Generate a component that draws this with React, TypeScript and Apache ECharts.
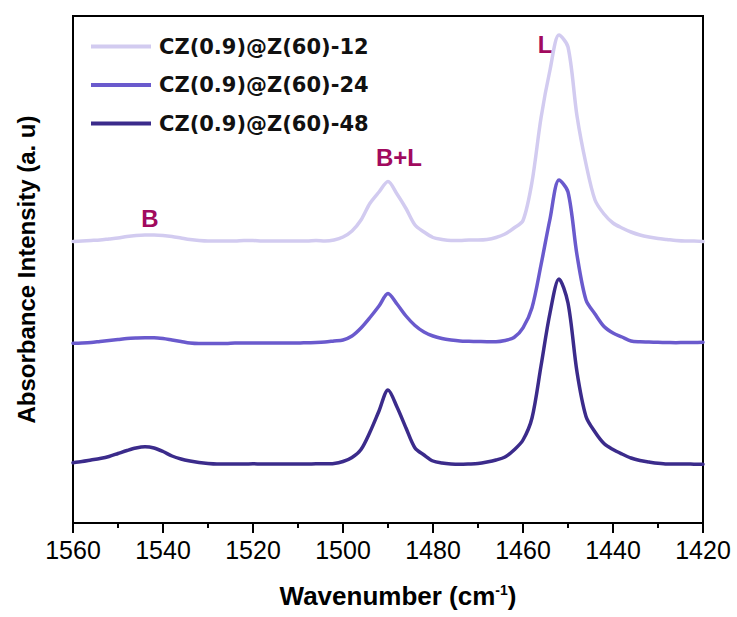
import React, { useEffect, useRef } from "react";
import * as echarts from "echarts";

// sampling grid: 1560 → 1420 cm-1, every 2 cm-1 (71 points)
const wavenumbers = Array.from({ length: 71 }, (_, i) => 1560 - 2 * i);

const seriesNames = ["CZ(0.9)@Z(60)-12", "CZ(0.9)@Z(60)-24", "CZ(0.9)@Z(60)-48"];
const seriesColors = ["#d2cbf0", "#6a5acd", "#3b2b8b"];

const spectrum12 = [
  2.815, 2.82, 2.825, 2.83, 2.84, 2.85, 2.865, 2.875, 2.88, 2.88,
  2.875, 2.865, 2.85, 2.835, 2.825, 2.82, 2.82, 2.82, 2.82, 2.825,
  2.825, 2.82, 2.82, 2.82, 2.82, 2.82, 2.82, 2.825, 2.82, 2.83,
  2.86, 2.92, 3.03, 3.197, 3.31, 3.415, 3.29, 3.145, 2.98, 2.91,
  2.855, 2.835, 2.825, 2.825, 2.83, 2.83, 2.835, 2.855, 2.89, 2.95,
  3.025, 3.41, 4.05, 4.53, 4.88, 4.76, 4.07, 3.59, 3.23, 3.09,
  3.0, 2.95, 2.91, 2.88, 2.86, 2.845, 2.835, 2.825, 2.82, 2.82,
  2.815,
];

const spectrum24 = [
  1.797, 1.8, 1.805, 1.815, 1.825, 1.835, 1.845, 1.85, 1.853, 1.853,
  1.845, 1.83, 1.815, 1.8, 1.795, 1.795, 1.795, 1.795, 1.8, 1.8,
  1.8, 1.8, 1.8, 1.8, 1.8, 1.8, 1.803, 1.805, 1.81, 1.82,
  1.83, 1.87, 1.95, 2.055, 2.17, 2.295, 2.19, 2.07, 1.975, 1.91,
  1.87, 1.845, 1.83, 1.82, 1.817, 1.815, 1.813, 1.813, 1.825, 1.855,
  1.952, 2.153, 2.58, 3.04, 3.43, 3.31, 2.68, 2.23, 2.09, 1.965,
  1.9, 1.86, 1.82, 1.812, 1.81, 1.807, 1.805, 1.803, 1.805, 1.805,
  1.807,
];

const spectrum48 = [
  0.603, 0.615, 0.63, 0.645, 0.665, 0.695, 0.725, 0.75, 0.762, 0.75,
  0.715, 0.67, 0.64, 0.62, 0.605, 0.595, 0.59, 0.59, 0.59, 0.59,
  0.592, 0.59, 0.59, 0.59, 0.59, 0.59, 0.59, 0.592, 0.592, 0.595,
  0.615, 0.655, 0.735, 0.91, 1.12, 1.33, 1.16, 0.95, 0.75, 0.68,
  0.62, 0.6, 0.59, 0.587, 0.59, 0.595, 0.61, 0.63, 0.66, 0.73,
  0.83, 1.05, 1.57, 2.1, 2.44, 2.2, 1.51, 1.065, 0.91, 0.795,
  0.735, 0.69, 0.65, 0.625, 0.61, 0.597, 0.59, 0.59, 0.59, 0.588,
  0.587,
];

const xTickStep = 20;
const xMin = 1420;
const xMax = 1560;
const yMin = 0;
const yMax = 5.07;

const peakLabels = ["B", "B+L", "L"];

export default function App() {
  const ref = useRef<HTMLDivElement>(null);

  useEffect(() => {
    if (!ref.current) return;
    const chart = echarts.init(ref.current, null, { renderer: "svg" });
    const allSpectra = [spectrum12, spectrum24, spectrum48];
    const series = allSpectra.map((s, i) => ({
      name: seriesNames[i],
      type: "line",
      data: wavenumbers.map((w, j) => [w, s[j]]),
      symbol: "none",
      smooth: 0.3,
      lineStyle: { color: seriesColors[i], width: 3.5, join: "round", cap: "round" },
      itemStyle: { color: seriesColors[i] },
      z: 3 - i,
    }));

    const labelStyle = {
      fill: "#a10a5e",
      fontSize: 24,
      fontWeight: "bold",
      fontFamily: "Liberation Sans, Arial, sans-serif",
      align: "center",
      verticalAlign: "middle",
    };

    chart.setOption({
      animation: false,
      backgroundColor: "#ffffff",
      grid: {
        left: 73,
        right: 34,
        top: 16,
        bottom: 94,
        show: true,
        borderColor: "#000",
        borderWidth: 2,
        backgroundColor: "transparent",
      },
      legend: {
        orient: "vertical",
        left: 86,
        top: 31,
        icon: "rect",
        itemWidth: 60,
        itemHeight: 4,
        itemGap: 17.5,
        data: seriesNames,
        textStyle: {
          fontFamily: "DejaVu Sans, sans-serif",
          fontWeight: "bold",
          fontSize: 21,
          lineHeight: 21,
          color: "#111",
          padding: [0, 0, 0, 3],
        },
      },
      xAxis: {
        type: "value",
        min: xMin,
        max: xMax,
        interval: xTickStep,
        inverse: true,
        axisLine: { show: true, lineStyle: { color: "#000", width: 2 } },
        axisTick: { show: true, length: 10, lineStyle: { color: "#000", width: 2 } },
        minorTick: { show: true, splitNumber: 2, length: 5, lineStyle: { color: "#000", width: 2 } },
        splitLine: { show: false },
        axisLabel: {
          margin: 14,
          fontSize: 25,
          color: "#000",
          fontFamily: "Liberation Sans, Arial, sans-serif",
          formatter: (v: number) => String(v),
        },
      },
      yAxis: {
        type: "value",
        min: yMin,
        max: yMax,
        axisLine: { show: true, lineStyle: { color: "#000", width: 2 } },
        axisTick: { show: false },
        axisLabel: { show: false },
        splitLine: { show: false },
        name: "Absorbance Intensity (a. u)",
        nameLocation: "middle",
        nameGap: 35,
        nameTextStyle: {
          fontSize: 24,
          fontWeight: "bold",
          color: "#000",
          fontFamily: "Liberation Sans, Arial, sans-serif",
        },
      },
      graphic: [
        { type: "text", x: 150, y: 218, style: { ...labelStyle, text: peakLabels[0] } },
        { type: "text", x: 399, y: 157, style: { ...labelStyle, text: peakLabels[1] } },
        { type: "text", x: 545, y: 44, style: { ...labelStyle, text: peakLabels[2] } },
        {
          type: "text",
          x: 398,
          y: 596,
          style: {
            text: "{t|Wavenumber (cm}{s|-1}{t|)}",
            align: "center",
            verticalAlign: "middle",
            rich: {
              t: {
                fontSize: 26,
                fontWeight: "bold",
                fill: "#000",
                fontFamily: "Liberation Sans, Arial, sans-serif",
              },
              s: {
                fontSize: 14,
                fontWeight: "bold",
                fill: "#000",
                fontFamily: "Liberation Sans, Arial, sans-serif",
                verticalAlign: "top",
                padding: [0, 0, 10, 0],
              },
            },
          },
        },
      ],
      series,
    });
    return () => chart.dispose();
  }, []);

  return (
    <div
      ref={ref}
      style={{ position: "fixed", left: 0, top: 0, width: 737, height: 617, background: "#fff" }}
    />
  );
}
